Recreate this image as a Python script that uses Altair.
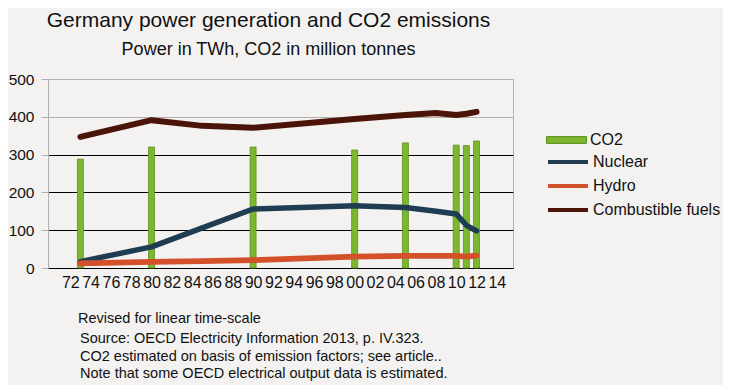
import altair as alt
import pandas as pd

# ---- data ----
CO2_YEARS = [1973, 1980, 1990, 2000, 2005, 2010, 2011, 2012]
CO2 = [288, 320, 320, 312, 331, 325, 324, 336]

LINE_YEARS = [1973, 1980, 1985, 1990, 2000, 2005, 2008, 2010, 2011, 2012]
NUCLEAR = [17, 56, 106, 156, 165, 160, 150, 143, 113, 98]
HYDRO = [12, 16, 18, 21, 30, 32, 32, 32, 30, 33]
FUELS = [347, 391, 376, 371, 394, 405, 410, 405, 408, 413]

X_TICKS = list(range(1972, 2015, 2))
Y_TICKS = [0, 100, 200, 300, 400, 500]

TITLE = "Germany power generation and CO2 emissions"
SUBTITLE = "Power in TWh, CO2 in million tonnes"
FOOT1 = ["Revised for linear time-scale"]
FOOT2 = [
    "Source: OECD Electricity Information 2013, p. IV.323.",
    "CO2 estimated on basis of emission factors; see article..",
    "Note that some OECD electrical output data is estimated.",
]

bars_df = pd.DataFrame({"year": CO2_YEARS, "value": CO2, "series": "CO2"})
rows = []
for name, vals in [("Nuclear", NUCLEAR), ("Hydro", HYDRO), ("Combustible fuels", FUELS)]:
    for y, v in zip(LINE_YEARS, vals):
        rows.append({"year": y, "value": v, "series": name})
lines_df = pd.DataFrame(rows)

FONT = "Liberation Sans"
BG = "#f3f2f0"
GRAY = "#b0b0b0"

x_enc = alt.X(
    "year:Q",
    scale=alt.Scale(domain=[1970.3, 2015.1], nice=False, zero=False),
    axis=alt.Axis(
        values=X_TICKS, labelExpr="substring(toString(datum.value), 2)",
        title=None, grid=False, ticks=False, labelFontSize=16, labelColor="#111",
        labelPadding=6, domainColor="#000", labelFont=FONT, labelFlush=False,
    ),
)
y_enc = alt.Y(
    "value:Q",
    scale=alt.Scale(domain=[0, 500], nice=False),
    axis=alt.Axis(
        values=Y_TICKS, title=None, ticks=True, tickSize=7, tickColor=GRAY,
        labelFontSize=15.5, labelColor="#111", labelPadding=7,
        domain=True, domainColor=GRAY, labelFont=FONT,
        gridColor={"condition": {"test": "datum.value >= 400", "value": GRAY}, "value": "#000"},
        gridOpacity=1, gridWidth=1,
    ),
)

bars = alt.Chart(bars_df).mark_bar(size=6, strokeWidth=0.8).encode(
    x=x_enc,
    y=y_enc,
    fill=alt.Fill(
        "series:N",
        scale=alt.Scale(domain=["CO2"], range=["#7cb82f"]),
        legend=alt.Legend(
            title=None, orient="none", legendX=498, legendY=51,
            symbolType="M-1,-0.17H1V0.17H-1Z", symbolSize=1600,
            symbolStrokeColor="#5e8f22", symbolStrokeWidth=1,
            labelFontSize=16, labelFont=FONT, labelColor="#111", labelOffset=3,
            clipHeight=20,
        ),
    ),
    stroke=alt.value("#5e8f22"),
)

lines = alt.Chart(lines_df).mark_line(strokeCap="round", strokeJoin="round").encode(
    x=x_enc,
    y=y_enc,
    stroke=alt.Stroke(
        "series:N",
        scale=alt.Scale(domain=["Nuclear", "Hydro", "Combustible fuels"],
                        range=["#1f3d52", "#d4502b", "#4a1408"]),
        sort=["Nuclear", "Hydro", "Combustible fuels"],
        legend=alt.Legend(
            title=None, orient="none", legendX=498, legendY=73,
            symbolType="stroke", symbolSize=1600, symbolStrokeWidth=4,
            labelFontSize=16, labelFont=FONT, labelColor="#111", labelOffset=3,
            clipHeight=20, rowPadding=4,
        ),
    ),
    strokeWidth=alt.StrokeWidth(
        "series:N",
        scale=alt.Scale(domain=["Nuclear", "Hydro", "Combustible fuels"], range=[5.5, 6, 3.5]),
        legend=None,
    ),
    detail="series:N",
)

foot1 = alt.Chart(alt.Data(values=[{}])).mark_text(
    text=FOOT1, align="left", baseline="alphabetic", fontSize=14.5, font=FONT, color="#111",
    lineHeight=18,
).encode(x=alt.value(30), y=alt.value(244))

foot2 = alt.Chart(alt.Data(values=[{}])).mark_text(
    text=FOOT2, align="left", baseline="alphabetic", fontSize=14.5, font=FONT, color="#111",
    lineHeight=17.5,
).encode(x=alt.value(32), y=alt.value(264))

chart = alt.layer(bars, lines, foot1, foot2).resolve_scale(
    fill="independent", stroke="independent"
).properties(
    width=465,
    height=189,
    autosize=alt.AutoSizeParams(type="none"),
    padding={"left": 40, "top": 71, "right": 210, "bottom": 118},
    background=BG,
    title=alt.TitleParams(
        text=TITLE, subtitle=SUBTITLE, anchor="middle", dx=-12, offset=13,
        fontSize=21, subtitleFontSize=18, font=FONT, subtitleFont=FONT,
        fontWeight="normal", color="#111", subtitleColor="#111", subtitlePadding=10,
    ),
).configure_view(stroke=GRAY, strokeWidth=1, fill=BG)

chart.save("out.html", embed_options={"renderer": "svg", "actions": False})
